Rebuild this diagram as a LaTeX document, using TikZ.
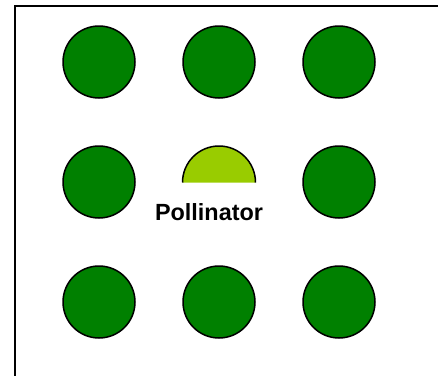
\documentclass[tikz,border=0pt]{standalone}
\usepackage{fontspec}
\setmainfont{Liberation Sans}
\begin{document}
\begin{tikzpicture}[x=1pt,y=-1pt,
  plant/.style={circle,draw=black,line width=1.5pt,fill=darkgreen,minimum size=72pt,inner sep=0pt},
  frameline/.style={line width=2pt,line cap=rect}]
\definecolor{darkgreen}{HTML}{008000}
\definecolor{lightgreen}{HTML}{99CC00}
\useasboundingbox (0,0) rectangle (438,375);
\coordinate (tl) at (15,6);
\coordinate (tr) at (439,6);
\coordinate (bl) at (15,376);
\draw[frameline] (tr) -- (tl) -- (bl);
\foreach \i/\x in {1/99,2/219,3/339}{
  \foreach \j/\y in {1/62,2/182,3/302}{
    \ifnum\i=2 \ifnum\j=2 \else \node[plant] (p\i\j) at (\x,\y) {}; \fi
    \else \node[plant] (p\i\j) at (\x,\y) {}; \fi
  }
}
\coordinate (pc) at (219,182.5);
\fill[lightgreen] (pc) ++(-36.5,0) arc[start angle=180,end angle=360,radius=36.5] -- cycle;
\draw[line width=1.5pt] (pc) ++(-36.5,0) arc[start angle=180,end angle=360,radius=36.5];
\node[font=\bfseries\fontsize{23.4}{26}\selectfont,anchor=base,inner sep=0pt] (lab) at (209,220) {Pollinator};
\end{tikzpicture}
\end{document}
